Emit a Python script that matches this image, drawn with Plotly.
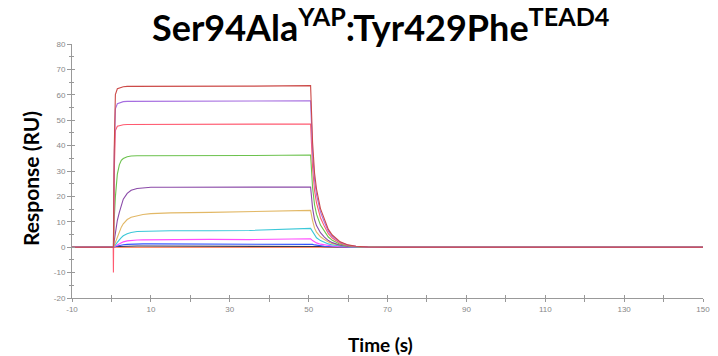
import plotly.graph_objects as go

# Time points (s)
time_s = [-10, 0.45, 0.5, 0.7, 1.0, 1.5, 2, 2.5, 3, 4, 5, 6.5, 8, 10, 15, 25, 35,
          50.5, 51, 51.5, 52, 53, 54, 55, 56, 58, 60, 62, 65, 70, 150]

# Response (RU) for each concentration trace
trace_top = [0, 0, 0, 38, 60.1, 62.4, 62.7, 63.0, 63.2, 63.3, 63.3, 63.3, 63.3, 63.2, 63.2, 63.2, 63.4,
             63.6, 41.3, 29.2, 22.9, 15.2, 10.8, 7.0, 4.8, 2.1, 0.9, 0.4, 0.1, 0, 0]
trace_violet = [0, 0, 0, 34.4, 54.5, 56.5, 56.8, 57.1, 57.3, 57.4, 57.4, 57.4, 57.4, 57.4, 57.4, 57.4, 57.5,
                57.6, 37.4, 26.5, 20.7, 13.8, 9.8, 6.3, 4.3, 1.9, 0.8, 0.35, 0.1, 0, 0]
trace_red = [0, 0, -10, 29, 45.9, 47.6, 47.8, 48.1, 48.2, 48.3, 48.3, 48.3, 48.3, 48.3, 48.3, 48.4, 48.4,
             48.5, 31.5, 22.3, 17.4, 11.6, 8.2, 5.3, 3.6, 1.6, 0.7, 0.3, 0.1, 0, 0]
trace_green = [0, 0, 0, 10.8, 19.8, 28.8, 32.4, 34.2, 34.9, 35.6, 35.9, 36.0, 36.0, 36.0, 36.0, 36.1, 36.1,
               36.3, 23.5, 16.7, 13.0, 8.7, 6.2, 4.0, 2.7, 1.2, 0.5, 0.2, 0.1, 0, 0]
trace_purple = [0, 0, 0, 2.4, 5.9, 10.6, 13.7, 16.5, 18.9, 21.2, 22.4, 23.1, 23.4, 23.6, 23.6, 23.6, 23.6,
                23.7, 15.4, 10.9, 8.5, 5.7, 4.0, 2.6, 1.8, 0.8, 0.3, 0.15, 0.05, 0, 0]
trace_yellow = [0, 0, 0, 0.7, 2.0, 4.1, 6.1, 7.9, 9.2, 10.9, 11.8, 12.5, 12.9, 13.2, 13.5, 13.7, 13.9,
                14.5, 10.5, 7.5, 5.9, 4.1, 3.0, 2.0, 1.4, 0.7, 0.3, 0.15, 0.05, 0, 0]
trace_cyan = [0, 0, 0, 0.3, 1.0, 2.0, 2.9, 3.8, 4.5, 5.3, 5.8, 6.2, 6.3, 6.4, 6.5, 6.5, 6.6,
              7.4, 6.0, 4.6, 3.7, 2.6, 1.9, 1.3, 0.9, 0.45, 0.2, 0.1, 0.03, 0, 0]
trace_magenta = [0, 0, 0, 0.15, 0.45, 0.9, 1.35, 1.75, 2.1, 2.5, 2.7, 2.85, 2.9, 2.95, 3.0, 3.1, 3.0,
                 3.3, 2.6, 2.1, 1.7, 1.2, 0.9, 0.6, 0.45, 0.2, 0.1, 0.05, 0, 0, 0]
trace_blue = [0, 0, 0, 0.1, 0.3, 0.5, 0.7, 0.85, 0.95, 1.1, 1.2, 1.25, 1.3, 1.3, 1.3, 1.3, 1.3,
              1.35, 1.1, 0.9, 0.75, 0.55, 0.4, 0.3, 0.2, 0.1, 0.05, 0, 0, 0, 0]
trace_dark = [0, 0, 0, 0.05, 0.15, 0.25, 0.3, 0.35, 0.4, 0.45, 0.5, 0.5, 0.5, 0.5, 0.5, 0.5, 0.5,
              0.5, 0.45, 0.4, 0.35, 0.25, 0.2, 0.15, 0.1, 0.05, 0, 0, 0, 0, 0]
trace_base = [0, 0, 0, 0.05, 0.1, 0.1, 0.1, 0.1, 0.1, 0.1, 0.1, 0.1, 0.1, 0.1, 0.1, 0.1, 0.1,
              0.1, 0.1, 0.05, 0.05, 0, 0, 0, 0, 0, 0, 0, 0, 0, 0]

series = [
    ("base", trace_base, "#ff6a3d"),
    ("dark", trace_dark, "#3a3a55"),
    ("blue", trace_blue, "#3355ff"),
    ("magenta", trace_magenta, "#ff4cff"),
    ("cyan", trace_cyan, "#3cc8d8"),
    ("yellow", trace_yellow, "#e2b866"),
    ("purple", trace_purple, "#8a4aa8"),
    ("green", trace_green, "#6cc24e"),
    ("red", trace_red, "#ff5a70"),
    ("violet", trace_violet, "#a66ee0"),
    ("top", trace_top, "#cc4a48"),
]

x_tickvals = [-10, 10, 30, 50, 70, 90, 110, 130, 150]
y_tickvals = [-20, -10, 0, 10, 20, 30, 40, 50, 60, 70, 80]

fig = go.Figure()
for name, ys, col in series:
    fig.add_trace(go.Scatter(x=time_s, y=ys, mode="lines", name=name,
                             line=dict(color=col, width=1.1), showlegend=False))

# invisible trace on overlay axes so inner tick marks are drawn (ticks crossing the axis line)
fig.add_trace(go.Scatter(x=[-10], y=[-20], mode="markers", marker=dict(opacity=0),
                         xaxis="x2", yaxis="y2", showlegend=False, hoverinfo="skip"))

fig.update_layout(
    width=718, height=356,
    margin=dict(l=72, r=8, t=44, b=58),
    paper_bgcolor="white", plot_bgcolor="white",
    showlegend=False,
    xaxis2=dict(overlaying="x", range=[-10, 150], tickvals=x_tickvals, showticklabels=False,
                showgrid=False, zeroline=False, showline=False, ticks="inside", ticklen=3,
                tickcolor="#999", minor=dict(dtick=10, tick0=0, ticks="inside", ticklen=3, tickcolor="#999")),
    yaxis2=dict(overlaying="y", range=[-20, 80], tickvals=y_tickvals, showticklabels=False,
                showgrid=False, zeroline=False, showline=False, ticks="inside", ticklen=3,
                tickcolor="#999", minor=dict(dtick=5, ticks="inside", ticklen=2, tickcolor="#999")),
)
fig.layout.xaxis.update(
    range=[-10, 150], tickvals=x_tickvals, ticktext=[str(v) for v in x_tickvals],
    showgrid=False, zeroline=False, showline=True, linecolor="#999", linewidth=1,
    ticks="outside", ticklen=3, tickcolor="#999",
    minor=dict(dtick=10, tick0=0, ticks="outside", ticklen=3, tickcolor="#999"),
    tickfont=dict(family="Liberation Sans", size=8, color="#888"),
)
fig.layout.yaxis.update(
    range=[-20, 80], tickvals=y_tickvals, ticktext=[str(v) for v in y_tickvals],
    showgrid=False, zeroline=False, showline=True, linecolor="#999", linewidth=1,
    ticks="outside", ticklen=4, tickcolor="#999",
    minor=dict(dtick=5, ticks="outside", ticklen=2, tickcolor="#999"),
    tickfont=dict(family="Liberation Sans", size=8, color="#888"),
)

fig.add_annotation(
    text="<b>Ser94Ala<sup>YAP</sup>:Tyr429Phe<sup>TEAD4</sup></b>",
    xref="paper", yref="paper", x=(384 - 72) / 638, y=(298 - 25) / 254, yanchor="middle", xanchor="center",
    showarrow=False,
    font=dict(family="Lato", size=36, color="black"),
)
fig.add_annotation(
    text="<b>Response (RU)</b>",
    xref="paper", yref="paper", x=0, xshift=-42, y=(298 - 179) / 254, yanchor="middle", xanchor="center",
    textangle=-90, showarrow=False,
    font=dict(family="Lato", size=21, color="black"),
)
fig.add_annotation(
    text="<b>Time (s)</b>",
    xref="paper", yref="paper", x=(384 - 72) / 638, y=0, yshift=-46, yanchor="middle", xanchor="center",
    showarrow=False,
    font=dict(family="Lato", size=19, color="black"),
)

fig.write_html("out.html")
